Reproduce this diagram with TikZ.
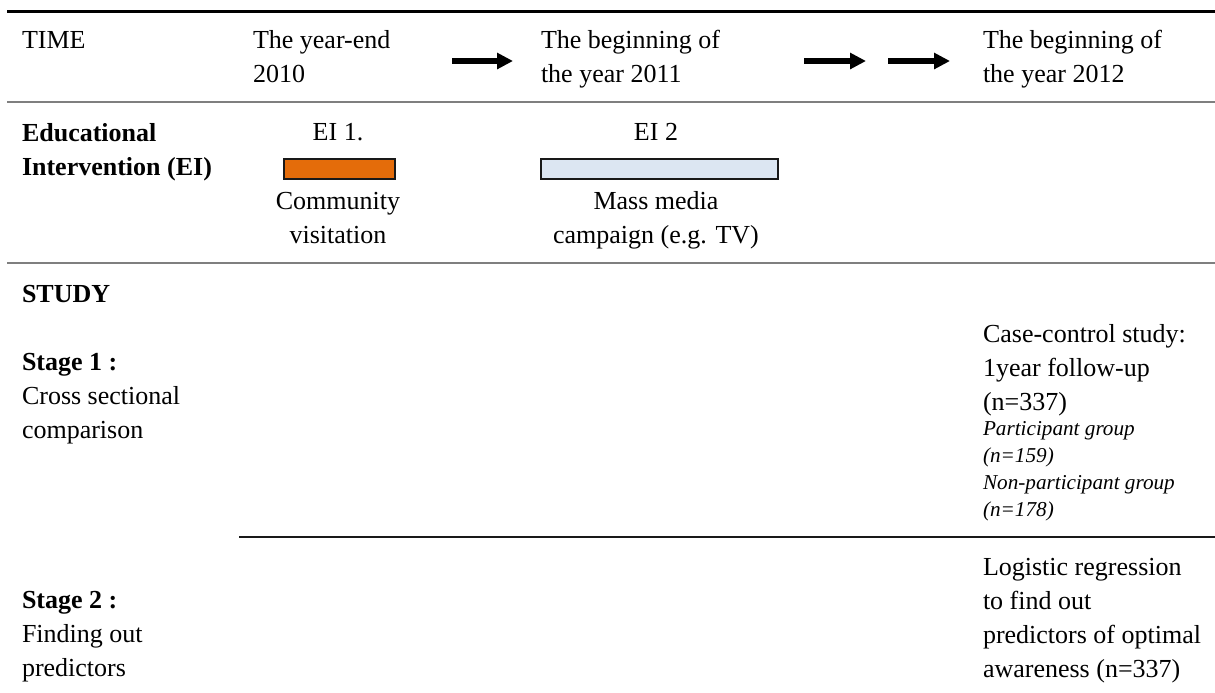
\documentclass[tikz,border=0pt]{standalone}
\usepackage{fontspec}
\setmainfont{Liberation Serif}
\usetikzlibrary{arrows.meta}
\definecolor{eiorange}{HTML}{E46C0A}
\definecolor{eiblue}{HTML}{DCE6F2}
\definecolor{rulegray}{HTML}{7F7F7F}
\begin{document}
\begin{tikzpicture}[x=0.5pt,y=-0.5pt,
  txt/.style={inner sep=0pt, outer sep=0pt, anchor=north west, align=left, font=\fontsize{13}{17}\selectfont},
  ctxt/.style={txt, anchor=north, align=center},
  one/.style={inner sep=0pt, outer sep=0pt, anchor=base west, font=\fontsize{13}{17}\selectfont},
  onec/.style={one, anchor=base},
  small/.style={inner sep=0pt, outer sep=0pt, anchor=north west, align=left, font=\fontsize{10.6}{13.5}\selectfont\itshape},
  bar/.style={draw=black!90, line width=0.9pt},
  arr/.style={line width=3.2pt, -{Triangle[length=8pt,width=7.8pt]}},
  thickrule/.style={line width=1.5pt, black},
  grayrule/.style={line width=0.8pt, rulegray},
  thinrule/.style={line width=0.7pt, black!90}
]
\useasboundingbox (0,0) rectangle (1215,692);
% rules
\draw[thickrule] (7,11) -- (1215,11);
\draw[grayrule] (7,102) -- (1215,102);
\draw[grayrule] (7,263) -- (1215,263);
\draw[thinrule] (239,537) -- (1215,537);
% header row
\node[one] (time) at (22,48) {TIME};
\node[txt] (t2010) at (253,24.2) {\strut The year-end\\\strut 2010};
\node[txt] (t2011) at (541,24.2) {\strut The beginning of\\\strut the year 2011};
\node[txt] (t2012) at (983,24.2) {\strut The beginning of\\\strut the year 2012};
\coordinate (a1s) at (452,61); \coordinate (a1e) at (513,61);
\coordinate (a2s) at (804,61); \coordinate (a2e) at (866,61);
\coordinate (a3s) at (888,61); \coordinate (a3e) at (950,61);
\draw[arr] (a1s) -- (a1e);
\draw[arr] (a2s) -- (a2e);
\draw[arr] (a3s) -- (a3e);
% EI row
\node[txt, font=\fontsize{13}{17}\selectfont\bfseries] (ei) at (22,117.2) {\strut Educational\\\strut Intervention (EI)};
\node[onec] (ei1) at (338,140) {EI 1.};
\node[onec] (ei2) at (656,140) {EI 2};
\node[bar, fill=eiorange, inner sep=0pt, minimum width=55.5pt, minimum height=10pt, anchor=north west] (bar1) at (283,158) {};
\node[bar, fill=eiblue, inner sep=0pt, minimum width=118.5pt, minimum height=10pt, anchor=north west] (bar2) at (540,158) {};
\node[ctxt] (ei1t) at (338,185.2) {\strut Community\\\strut visitation};
\node[ctxt] (ei2t) at (656,185.2) {\strut Mass media\\\strut campaign (e.g. TV)};
% study
\node[one, font=\fontsize{13}{17}\selectfont\bfseries] (study) at (22,302) {STUDY};
\node[txt] (st1) at (22,346.2) {\strut\textbf{Stage 1 :}\\\strut Cross sectional\\\strut comparison};
\node[txt] (st2) at (22,584.2) {\strut\textbf{Stage 2 :}\\\strut Finding out\\\strut predictors};
\node[txt] (cc) at (983,318.2) {\strut Case-control study:\\\strut 1year follow-up\\\strut (n=337)};
\node[small] (grp) at (983,416.1) {\strut Participant group\\\strut (n=159)\\\strut Non-participant group\\\strut (n=178)};
\node[txt] (lr) at (983,551.2) {\strut Logistic regression\\\strut to find out\\\strut predictors of optimal\\\strut awareness (n=337)};
\end{tikzpicture}
\end{document}
